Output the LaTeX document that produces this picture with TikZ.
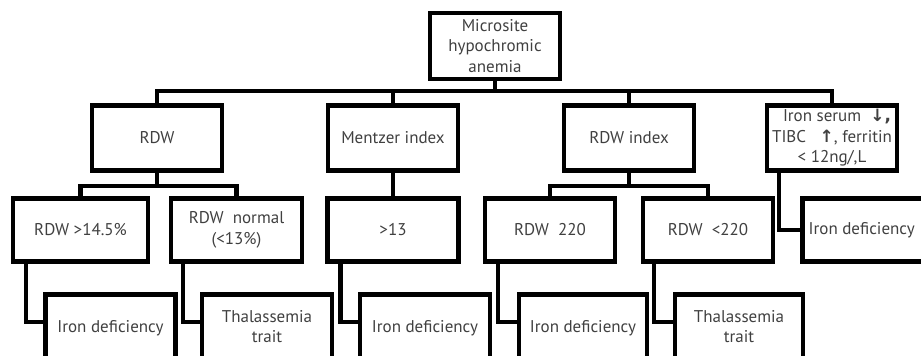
\documentclass[tikz,border=0pt]{standalone}
\usepackage{fontspec}
\setmainfont{PT Sans}
\newfontfamily\symfont{DejaVu Sans}
\usetikzlibrary{calc}
\newcommand{\upbox}[1]{\raisebox{4pt}{\begin{tabular}{@{}c@{}}#1\end{tabular}}}
\tikzset{
  box/.style={draw=black, line width=4.5pt, minimum width=130pt, minimum height=65pt,
    inner sep=0pt, align=center, text=black!75, font=\fontsize{17}{20.5}\selectfont},
  link/.style={draw=black, line width=4.5pt}
}
\begin{document}
\begin{tikzpicture}[x=1pt,y=-1pt]
\useasboundingbox (0,0) rectangle (921,356);
\clip (0,0) rectangle (921,356);
% top
\node[box, minimum height=66pt] (top) at (495,46) {Microsite\\hypochromic\\anemia};
% level 1
\node[box] (rdw) at (157,138) {RDW};
\node[box] (men) at (393,138) {Mentzer index};
\node[box] (rdwi) at (629,138) {RDW index};
\node[box] (iron) at (832,138) {\hspace*{10pt}Iron serum\ \ {\symfont\bfseries ↓,}\\TIBC\ \ \ {\symfont\bfseries ↑}, ferritin\\< 12ng/,L};
% level 2
\node[box, minimum width=135pt, minimum height=63pt] (hi) at (80.5,230) {RDW >14.5\%};
\node[box, minimum width=131pt, minimum height=63pt] (norm) at (236.5,230) {RDW\ \ normal\\(<13\%)};
\node[box, minimum width=131pt, minimum height=63pt] (gt) at (393,230) {>13};
\node[box, minimum height=63pt] (r220) at (550,230) {RDW\ \ 220};
\node[box, minimum height=63pt] (rl220) at (708,230) {RDW\ \ <220};
\node[box, minimum height=63pt, anchor=west] (id4) at (800,230) {\hspace*{-11pt}Iron deficiency};
% level 3
\node[box, anchor=north, minimum height=68pt] (id1) at (110.5,292) {\upbox{Iron deficiency}};
\node[box, anchor=north, minimum height=68pt] (th1) at (267,292) {\upbox{Thalassemia\\trait}};
\node[box, anchor=north, minimum height=68pt] (id2) at (425,292) {\upbox{Iron deficiency}};
\node[box, anchor=north, minimum height=68pt, minimum width=128pt] (id3) at (583,292) {\upbox{Iron deficiency}};
\node[box, anchor=north, minimum height=68pt, minimum width=128pt] (th2) at (739,292) {\upbox{Thalassemia\\trait}};
% connectors level 0 -> 1
\coordinate (bus1) at (495,91);
\draw[link] (top.south) -- (top.south |- bus1);
\draw[link] (rdw.north) |- (bus1) -| (iron.north);
\draw[link] (men.north) -- (men.north |- bus1);
\draw[link] (rdwi.north) -- (rdwi.north |- bus1);
% connectors level 1 -> 2
\coordinate (bus2) at (157,186);
\draw[link] (rdw.south) -- (rdw.south |- bus2);
\draw[link] (hi.north) |- (bus2) -| (norm.north);
\draw[link] (men.south) -- (gt.north);
\coordinate (bus3) at (629,186);
\draw[link] (rdwi.south) -- (rdwi.south |- bus3);
\draw[link] (r220.north) |- (bus3) -| (rl220.north);
\draw[link] ([xshift=14pt]iron.south west) |- (id4.west);
% connectors level 2 -> 3
\draw[link] ([xshift=15pt]hi.south west) |- ([yshift=-30pt]id1.north west);
\draw[link] ([xshift=14pt]norm.south west) |- ([yshift=-30pt]th1.north west);
\draw[link] ([xshift=15pt]gt.south west) |- ([yshift=-30pt]id2.north west);
\draw[link] ([xshift=15pt]r220.south west) |- ([yshift=-30pt]id3.north west);
\draw[link] ([xshift=13pt]rl220.south west) |- ([yshift=-30pt]th2.north west);
\end{tikzpicture}
\end{document}
